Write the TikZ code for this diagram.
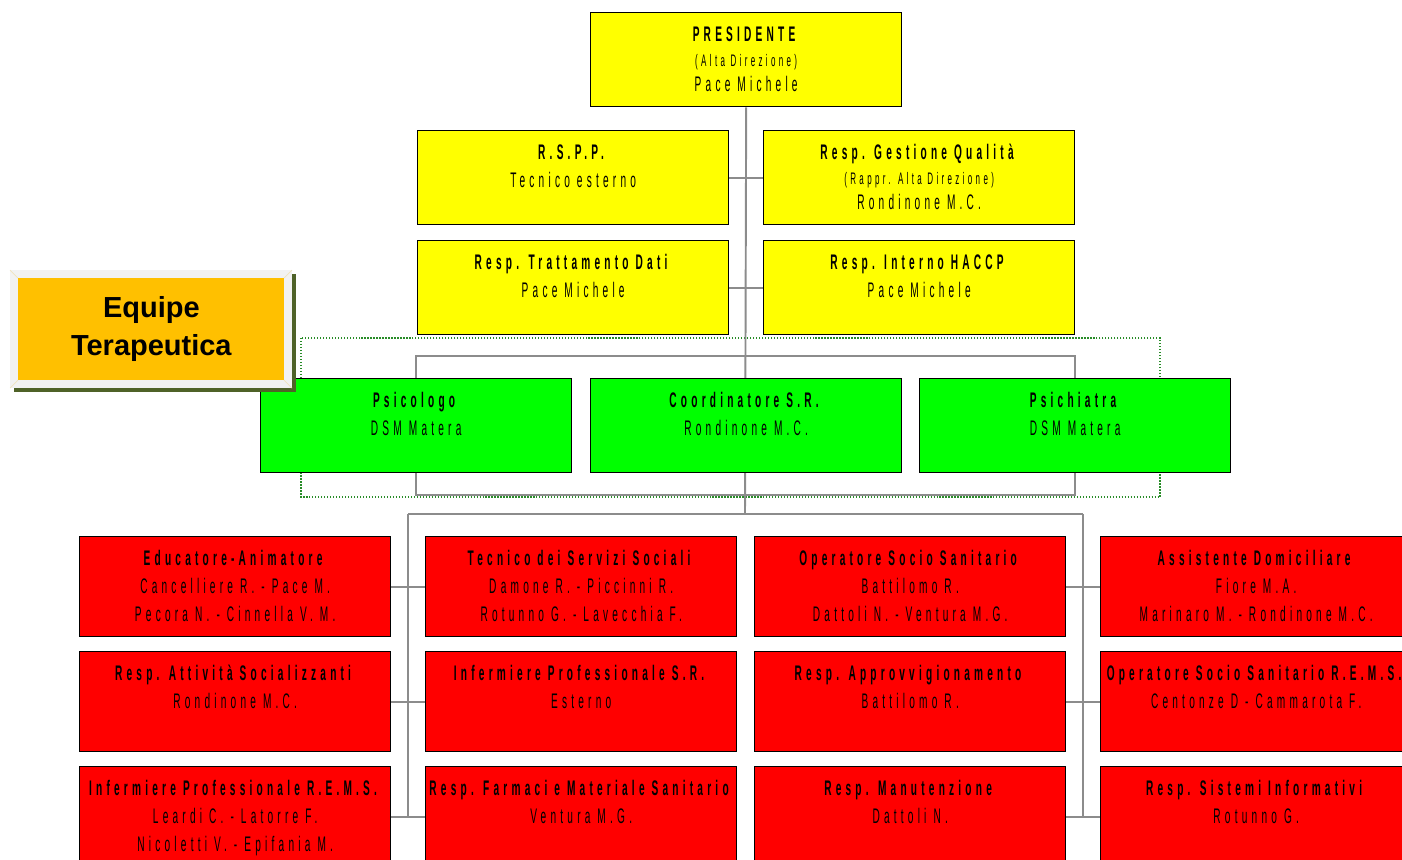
\documentclass[tikz,border=0pt]{standalone}
\usepackage{fontspec}
\usepackage{tikz}
\usetikzlibrary{backgrounds}
\newfontfamily\orgfont[FakeStretch=0.48,LetterSpace=20]{Liberation Sans}
\newfontfamily\equipefont{Liberation Sans}
\definecolor{orgyellow}{RGB}{255,255,0}
\definecolor{orggreen}{RGB}{0,255,0}
\definecolor{orgred}{RGB}{255,0,0}
\definecolor{linegray}{RGB}{140,140,140}
\definecolor{teamgreen}{RGB}{40,140,40}
\definecolor{equipeorange}{RGB}{255,192,0}
\definecolor{equipeframe}{RGB}{242,242,242}
\definecolor{equipebevel}{RGB}{240,228,190}
\definecolor{equipeshadow}{RGB}{79,98,40}
\newcommand{\boxlines}[1]{\parbox[t]{6.1cm}{\centering #1}}
\newcommand{\subline}{\fontsize{9.5}{14.5}\selectfont}

\begin{document}
\begin{tikzpicture}[x=0.02cm,y=-0.02cm,
    orgbox/.style={draw=black, line width=0.8pt, anchor=north west, inner sep=0pt,
                   minimum width=6.22cm, text height=0.58cm,
                   font=\orgfont\fontsize{12}{16}\selectfont},
    yellowbox/.style={orgbox, fill=orgyellow, text depth=1.3cm},
    greenbox/.style={orgbox, fill=orggreen, text depth=1.3cm},
    redbox/.style={orgbox, fill=orgred, text depth=1.42cm},
    link/.style={draw=linegray, line width=1.1pt}]
\useasboundingbox (0,0) rectangle (1402,859);

\begin{scope}[every node/.style={yellowbox}]
    \node (pres) at (590,12) {\boxlines{\textbf{PRESIDENTE}\\[-1.7pt]{\subline (Alta Direzione)}\\[-1.7pt]Pace Michele}};
    \node (rspp) at (417,130) {\boxlines{\textbf{R.S.P.P.}\\Tecnico esterno}};
    \node (qual) at (763,130) {\boxlines{\textbf{Resp. Gestione Qualità}\\[-1.7pt]{\subline (Rappr. Alta Direzione)}\\[-1.7pt]Rondinone M.C.}};
    \node (dati) at (417,240) {\boxlines{\textbf{Resp. Trattamento Dati}\\Pace Michele}};
    \node (haccp) at (763,240) {\boxlines{\textbf{Resp. Interno HACCP}\\Pace Michele}};
\end{scope}

\begin{scope}[every node/.style={greenbox}]
    \node (psico) at (260,378) {\boxlines{\textbf{Psicologo}\\DSM Matera}};
    \node (coord) at (590,378) {\boxlines{\textbf{Coordinatore S.R.}\\Rondinone M.C.}};
    \node (psich) at (919,378) {\boxlines{\textbf{Psichiatra}\\DSM Matera}};
\end{scope}

\begin{scope}[every node/.style={redbox}]
    \node (edu) at (79,536) {\boxlines{\textbf{Educatore-Animatore}\\Cancelliere R. - Pace M.\\Pecora N. - Cinnella V. M.}};
    \node (tss) at (425,536) {\boxlines{\textbf{Tecnico dei Servizi Sociali}\\Damone R. - Piccinni R.\\Rotunno G. - Lavecchia F.}};
    \node (oss) at (754,536) {\boxlines{\textbf{Operatore Socio Sanitario}\\Battilomo R.\\Dattoli N. - Ventura M.G.}};
    \node (ass) at (1100,536) {\boxlines{\textbf{Assistente Domiciliare}\\Fiore M.A.\\Marinaro M. - Rondinone M.C.}};
    \node (att) at (79,651) {\boxlines{\textbf{Resp. Attività Socializzanti}\\Rondinone M.C.}};
    \node (infsr) at (425,651) {\boxlines{\textbf{Infermiere Professionale S.R.}\\Esterno}};
    \node (appr) at (754,651) {\boxlines{\textbf{Resp. Approvvigionamento}\\Battilomo R.}};
    \node (ossrems) at (1100,651) {\boxlines{\textbf{Operatore Socio Sanitario R.E.M.S.}\\Centonze D - Cammarota F.}};
    \node (infrems) at (79,766) {\boxlines{\textbf{Infermiere Professionale R.E.M.S.}\\Leardi C. - Latorre F.\\Nicoletti V. - Epifania M.}};
    \node (farm) at (425,766) {\boxlines{\textbf{Resp. Farmaci e Materiale Sanitario}\\Ventura M.G.}};
    \node (manu) at (754,766) {\boxlines{\textbf{Resp. Manutenzione}\\Dattoli N.}};
    \node (sist) at (1100,766) {\boxlines{\textbf{Resp. Sistemi Informativi}\\Rotunno G.}};
\end{scope}

\begin{pgfonlayer}{background}
    \draw[teamgreen, densely dotted, line width=0.7pt] (301,338) rectangle (1160,497);
    \coordinate (hub) at (745,514);
    \coordinate (lbus) at (408,514);
    \coordinate (rbus) at (1083,514);
    \path[link] (pres.south) -- (hub);
    \path[link] (rspp.east) -- (qual.west);
    \path[link] (dati.east) -- (haccp.west);
    \path[link] (psico.north) -- ++(0,-22) -| (psich.north);
    \path[link] (psico.south) -- ++(0,22) -| (psich.south);
    \path[link] (lbus) -- (rbus);
    \path[link] (lbus) -- (lbus |- infrems.east);
    \path[link] (rbus) -- (rbus |- sist.west);
    \path[link] (edu.east) -- (tss.west);
    \path[link] (att.east) -- (infsr.west);
    \path[link] (infrems.east) -- (farm.west);
    \path[link] (oss.east) -- (ass.west);
    \path[link] (appr.east) -- (ossrems.west);
    \path[link] (manu.east) -- (sist.west);
\end{pgfonlayer}

\fill[equipeshadow] (14,274) rectangle (296,392);
\fill[equipeframe] (10,270) rectangle (292,388);
\draw[equipebevel] (10,270) -- (18,278) (292,270) -- (284,278)
                   (10,388) -- (18,380) (292,388) -- (284,380);
\node[fill=equipeorange, anchor=north west, inner sep=0pt, minimum width=5.32cm,
      minimum height=2.04cm, align=center,
      font=\equipefont\bfseries\fontsize{16.5}{21.5}\selectfont] (equipe) at (18,278) {Equipe\\Terapeutica};
\end{tikzpicture}
\end{document}
